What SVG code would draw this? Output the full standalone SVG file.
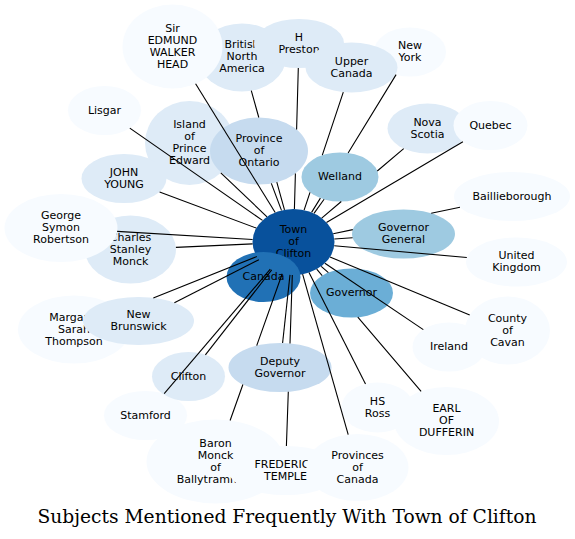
<svg xmlns="http://www.w3.org/2000/svg" width="575" height="539" viewBox="0 0 575 539">
<style>
text{font-family:"DejaVu Sans","Liberation Sans",sans-serif;font-size:11px;text-anchor:middle;fill:#000}
.title{font-family:"DejaVu Serif","Liberation Serif",serif;font-size:18.67px}
.c1{fill:#f7fbff}.c2{fill:#deebf7}.c3{fill:#c6dbef}.c4{fill:#9ecae1}.c5{fill:#6baed6}.c7{fill:#2171b5}.c8{fill:#08519c}
ellipse{stroke:none}
#edges path{fill:none;stroke:#000;stroke-width:1.1}
</style>
<rect width="575" height="539" fill="#fff"/>
<g id="nodes">
<g id="n_bna"><ellipse class="c2" cx="242" cy="57.5" rx="44" ry="34"/><text x="242" y="47.5">British</text><text x="242" y="59.5">North</text><text x="242" y="71.5">America</text></g>
<g id="n_sir"><ellipse class="c1" cx="172.5" cy="46.5" rx="50" ry="42"/><text x="172.5" y="31.5">Sir</text><text x="172.5" y="43.5">EDMUND</text><text x="172.5" y="55.5">WALKER</text><text x="172.5" y="67.5">HEAD</text></g>
<g id="n_preston"><ellipse class="c2" cx="299" cy="43.5" rx="45" ry="24.5"/><text x="299" y="40.5">H</text><text x="299" y="52.5">Preston</text></g>
<g id="n_ny"><ellipse class="c1" cx="410" cy="52" rx="36" ry="24.5"/><text x="410" y="49">New</text><text x="410" y="61">York</text></g>
<g id="n_uc"><ellipse class="c2" cx="351.5" cy="67.5" rx="46" ry="25"/><text x="351.5" y="64.5">Upper</text><text x="351.5" y="76.5">Canada</text></g>
<g id="n_lisgar"><ellipse class="c1" cx="104.5" cy="110.5" rx="36.5" ry="24.5"/><text x="104.5" y="113.5">Lisgar</text></g>
<g id="n_pei"><ellipse class="c2" cx="189.5" cy="143" rx="44.5" ry="42"/><text x="189.5" y="128">Island</text><text x="189.5" y="140">of</text><text x="189.5" y="152">Prince</text><text x="189.5" y="164">Edward</text></g>
<g id="n_ontario"><ellipse class="c3" cx="259" cy="151" rx="49" ry="33.5"/><text x="259" y="142">Province</text><text x="259" y="154">of</text><text x="259" y="166">Ontario</text></g>
<g id="n_welland"><ellipse class="c4" cx="340" cy="177" rx="38.5" ry="24.5"/><text x="340" y="180">Welland</text></g>
<g id="n_ns"><ellipse class="c2" cx="427.5" cy="128.5" rx="40" ry="25"/><text x="427.5" y="125.5">Nova</text><text x="427.5" y="137.5">Scotia</text></g>
<g id="n_quebec"><ellipse class="c1" cx="490.5" cy="125.5" rx="37" ry="24.5"/><text x="490.5" y="128.5">Quebec</text></g>
<g id="n_young"><ellipse class="c2" cx="124" cy="178.5" rx="42.5" ry="24.5"/><text x="124" y="175.5">JOHN</text><text x="124" y="187.5">YOUNG</text></g>
<g id="n_baillie"><ellipse class="c1" cx="512" cy="196.5" rx="58" ry="24.5"/><text x="512" y="199.5">Baillieborough</text></g>
<g id="n_charles"><ellipse class="c2" cx="130.5" cy="249.5" rx="45.5" ry="34"/><text x="130.5" y="240.5">Charles</text><text x="130.5" y="252.5">Stanley</text><text x="130.5" y="264.5">Monck</text></g>
<g id="n_george"><ellipse class="c1" cx="61" cy="228" rx="56.5" ry="34"/><text x="61" y="219">George</text><text x="61" y="231">Symon</text><text x="61" y="243">Robertson</text></g>
<g id="n_town"><ellipse class="c8" cx="293.5" cy="242" rx="41" ry="33"/><text x="293.5" y="233">Town</text><text x="293.5" y="245">of</text><text x="293.5" y="257">Clifton</text></g>
<g id="n_canada"><ellipse class="c7" cx="263.5" cy="277" rx="37" ry="25"/><text x="263.5" y="280">Canada</text></g>
<g id="n_govgen"><ellipse class="c4" cx="403.5" cy="234" rx="51.5" ry="24.5"/><text x="403.5" y="231">Governor</text><text x="403.5" y="243">General</text></g>
<g id="n_uk"><ellipse class="c1" cx="516.5" cy="262" rx="50.5" ry="24.5"/><text x="516.5" y="259">United</text><text x="516.5" y="271">Kingdom</text></g>
<g id="n_margaret"><ellipse class="c1" cx="74" cy="329.5" rx="56" ry="34"/><text x="74" y="320.5">Margaret</text><text x="74" y="332.5">Sarah</text><text x="74" y="344.5">Thompson</text></g>
<g id="n_nb"><ellipse class="c2" cx="138.5" cy="321" rx="55.5" ry="24"/><text x="138.5" y="318">New</text><text x="138.5" y="330">Brunswick</text></g>
<g id="n_governor"><ellipse class="c5" cx="351.5" cy="293" rx="41.5" ry="24.5"/><text x="351.5" y="296">Governor</text></g>
<g id="n_ireland"><ellipse class="c1" cx="449" cy="347" rx="36.5" ry="24.5"/><text x="449" y="350">Ireland</text></g>
<g id="n_cavan"><ellipse class="c1" cx="507.5" cy="330.5" rx="42.5" ry="34"/><text x="507.5" y="321.5">County</text><text x="507.5" y="333.5">of</text><text x="507.5" y="345.5">Cavan</text></g>
<g id="n_stamford"><ellipse class="c1" cx="145.5" cy="415.5" rx="41.5" ry="24.5"/><text x="145.5" y="418.5">Stamford</text></g>
<g id="n_clifton"><ellipse class="c2" cx="188.5" cy="376.5" rx="36.5" ry="24.5"/><text x="188.5" y="379.5">Clifton</text></g>
<g id="n_deputy"><ellipse class="c3" cx="280" cy="367.5" rx="51.5" ry="24.5"/><text x="280" y="364.5">Deputy</text><text x="280" y="376.5">Governor</text></g>
<g id="n_ross"><ellipse class="c1" cx="377.5" cy="407.5" rx="36" ry="25"/><text x="377.5" y="404.5">HS</text><text x="377.5" y="416.5">Ross</text></g>
<g id="n_dufferin"><ellipse class="c1" cx="446.5" cy="421" rx="52.5" ry="34"/><text x="446.5" y="412">EARL</text><text x="446.5" y="424">OF</text><text x="446.5" y="436">DUFFERIN</text></g>
<g id="n_baron"><ellipse class="c1" cx="215.5" cy="461.5" rx="69" ry="42"/><text x="215.5" y="446.5">Baron</text><text x="215.5" y="458.5">Monck</text><text x="215.5" y="470.5">of</text><text x="215.5" y="482.5">Ballytrammon</text></g>
<g id="n_frederick"><ellipse class="c1" cx="285.5" cy="470.5" rx="57" ry="24.5"/><text x="285.5" y="467.5">FREDERICK</text><text x="285.5" y="479.5">TEMPLE</text></g>
<g id="n_provinces"><ellipse class="c1" cx="357.5" cy="467.5" rx="51" ry="33.5"/><text x="357.5" y="458.5">Provinces</text><text x="357.5" y="470.5">of</text><text x="357.5" y="482.5">Canada</text></g>
</g>
<g id="edges">
<path d="M321.2,266.3 L328.4,272.7"/>
<path d="M334.3,239.0 L352.6,237.7"/>
<path d="M314.0,213.4 L324.1,199.3"/>
<path d="M281.5,210.4 L271.3,183.4"/>
<path d="M290.0,274.9 L282.6,343.0"/>
<path d="M267.0,216.8 L220.8,172.8"/>
<path d="M256.3,228.1 L159.6,191.9"/>
<path d="M284.5,209.8 L276.8,182.2 M258.8,117.5 L251.3,90.7"/>
<path d="M294.4,209.0 L295.4,173.4 M296.6,129.5 L298.3,68.0"/>
<path d="M304.1,210.1 L310.0,192.3 M322.3,155.2 L343.3,92.1"/>
<path d="M311.6,212.4 L320.4,198.1 M348.1,153.0 L396.1,74.6"/>
<path d="M321.7,218.1 L341.3,201.5 M377.3,171.0 L403.7,148.6"/>
<path d="M326.5,222.5 L462.9,141.8"/>
<path d="M333.2,233.7 L352.8,229.6 M431.2,213.3 L460.0,207.3"/>
<path d="M334.2,245.7 L466.8,257.5"/>
<path d="M330.0,257.1 L469.7,314.9"/>
<path d="M324.9,263.2 L423.3,329.6"/>
<path d="M309.0,272.6 L365.5,383.9"/>
<path d="M316.7,269.2 L322.2,275.6 M357.8,317.2 L421.1,391.3"/>
<path d="M302.6,274.2 L348.2,434.6"/>
<path d="M292.3,275.0 L290.0,343.5 M288.3,391.7 L286.4,446.0"/>
<path d="M282.2,273.7 L256.7,345.6 M242.9,384.5 L230.1,420.5"/>
<path d="M270.3,269.2 L164.2,393.6"/>
<path d="M271.7,269.9 L205.4,354.8"/>
<path d="M258.9,259.7 L174.4,302.7"/>
<path d="M256.8,256.6 L153.3,297.9"/>
<path d="M252.6,239.5 L117.2,231.4"/>
<path d="M252.6,243.9 L175.9,247.4"/>
<path d="M262.5,220.4 L129.8,128.1"/>
<path d="M275.2,212.5 L195.6,83.8"/>
</g>
<text class="title" x="287" y="523">Subjects Mentioned Frequently With Town of Clifton</text>
</svg>
